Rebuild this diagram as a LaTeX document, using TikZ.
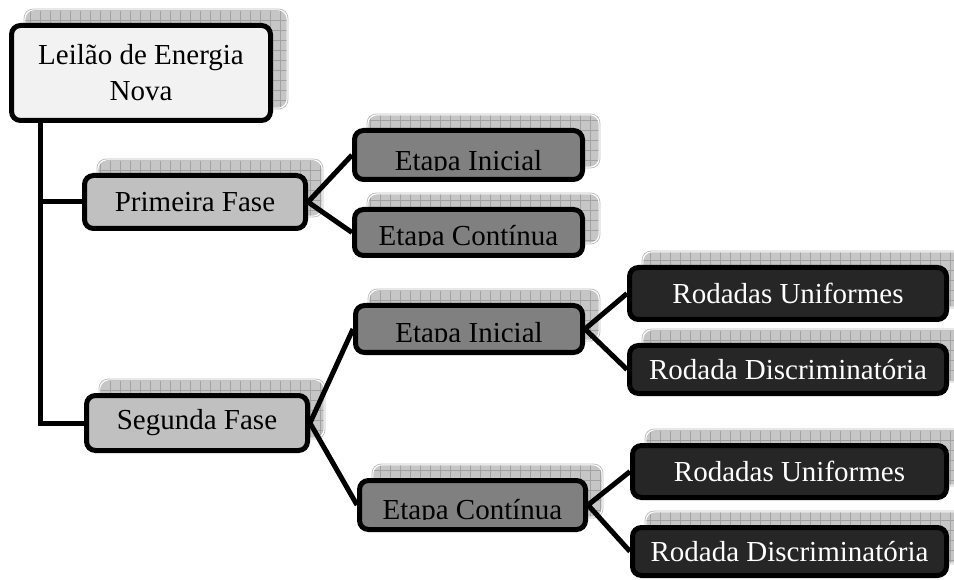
\documentclass[tikz,border=0pt]{standalone}
\usepackage{fontspec}
\setmainfont{Liberation Serif}
\definecolor{rootfill}{HTML}{F2F2F2}
\definecolor{fasefill}{HTML}{C0C0C0}
\definecolor{etapafill}{HTML}{808080}
\definecolor{rodfill}{HTML}{262626}
\definecolor{shadowfill}{HTML}{C6C6C6}
\definecolor{shadowgrid}{HTML}{A2A2A2}
\pgfdeclarelayer{shadowlayer}
\pgfdeclarelayer{connlayer}
\pgfsetlayers{shadowlayer,connlayer,main}
\tikzset{
  boxbase/.style={draw=black, line width=5pt, rounded corners=9pt, inner sep=0pt,
    font=\fontsize{29}{36}\selectfont, align=center},
  rootbox/.style={boxbase, fill=rootfill},
  fasebox/.style={boxbase, fill=fasefill},
  etapabox/.style={boxbase, fill=etapafill},
  rodbox/.style={boxbase, fill=rodfill, text=white},
  txt/.style={inner sep=0pt, font=\fontsize{29}{36}\selectfont},
  conn/.style={draw=black, line width=5pt},
}
% shadow: x1 y1 x2 y2 of the box (outer)
\newcommand\gshadow[4]{%
  \begin{pgfonlayer}{shadowlayer}
  \begin{scope}
    \clip[rounded corners=9pt] (#1+15,#2-14) rectangle (#3+15,#4-14);
    \fill[shadowfill] (#1+15,#2-14) rectangle (#3+15,#4-14);
    \draw[shadowgrid, line width=0.7pt, step=10pt] (#1+15,#2-14) grid (#3+15,#4-14);
  \end{scope}
  \draw[rounded corners=9pt, white, line width=1.2pt] (#1+15.8,#2-13.2) rectangle (#3+14.2,#4-14.8);
  \draw[rounded corners=9pt, black!25, line width=0.6pt] (#1+15,#2-14) rectangle (#3+15,#4-14);
  \end{pgfonlayer}
}
% box node: name x1 y1 x2 y2 style text
\newcommand\mkbox[7]{%
  \gshadow{#2}{#3}{#4}{#5}
  \node[#6, minimum width={(#4)-(#2)-5}, minimum height={(#5)-(#3)-5}]
    (#1) at ({((#2)+(#4))/2},{((#3)+(#5))/2}) {#7};
}
% clipped text: name x1 x2 baseline text
\newcommand\cliptext[5]{%
  \begin{scope}
    \clip (#2,0) rectangle (#3,#4);
    \node[txt, anchor=base] (#1) at ({((#2)+(#3))/2},#4) {#5};
  \end{scope}
}
\begin{document}
\begin{tikzpicture}[x=1pt,y=-1pt]
\useasboundingbox (0,0) rectangle (954,580);
% boxes
\mkbox{root}{9}{23}{273}{123}{rootbox}{Leilão de Energia\\Nova}
\mkbox{pf}{82}{173}{308}{231}{fasebox}{Primeira Fase}
\mkbox{sf}{84}{393}{310}{453}{fasebox}{Segunda Fase}
\mkbox{ei1}{352}{128}{585}{182}{etapabox}{}
\mkbox{ec1}{352}{207}{585}{258}{etapabox}{}
\mkbox{ei2}{353}{303}{585}{355}{etapabox}{}
\mkbox{ec2}{357}{478}{588}{532}{etapabox}{}
\mkbox{ru1}{627}{265}{949}{322}{rodbox}{Rodadas Uniformes}
\mkbox{rd1}{627}{343}{949}{396}{rodbox}{\raisebox{-3pt}{Rodada Discriminatória}}
\mkbox{ru2}{630}{443}{949}{500}{rodbox}{\raisebox{-3pt}{Rodadas Uniformes}}
\mkbox{rd2}{630}{525}{949}{578}{rodbox}{\raisebox{-2pt}{Rodada Discriminatória}}
% clipped etapa texts
\cliptext{ei1t}{352}{585}{171}{Etapa Inicial}
\cliptext{ec1t}{352}{585}{246}{Etapa Contínua}
\cliptext{ei2t}{353}{585}{342}{Etapa Inicial}
\cliptext{ec2t}{357}{588}{519}{Etapa Contínua}
% connectors
\coordinate (j) at (40,427);
\begin{pgfonlayer}{connlayer}
\draw[conn] (root.south -| j) -- (j |- sf.west) -- (sf.west);
\draw[conn] (j |- pf.west) -- (pf.west);
\draw[conn] (ei1.west) -- (pf.east) -- (ec1.west);
\draw[conn] (ei2.west) -- (sf.east) -- (ec2.west);
\draw[conn] (ru1.west) -- (ei2.east) -- (rd1.west);
\draw[conn] (ru2.west) -- (ec2.east) -- (rd2.west);
\end{pgfonlayer}
\end{tikzpicture}
\end{document}
